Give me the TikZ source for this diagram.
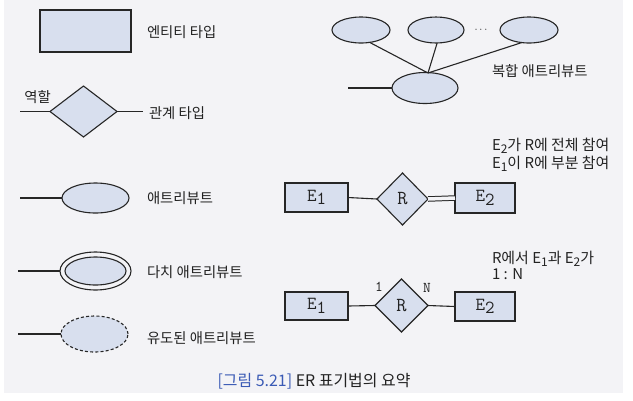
\documentclass[tikz,border=0pt]{standalone}
\usepackage{fontspec}
\setmainfont{Noto Sans CJK KR}
\usetikzlibrary{shapes.geometric}
\definecolor{ln}{HTML}{262626}
\definecolor{sh}{HTML}{D8DFEE}
\definecolor{panel}{HTML}{F3F3F6}
\definecolor{tx}{HTML}{222222}
\definecolor{capblue}{HTML}{3A5AB5}
\newcommand{\ksub}[1]{\raisebox{-0.35ex}{\fontsize{12}{12}\selectfont #1}}
\newcommand{\esub}[1]{\raisebox{-0.45ex}{#1}}
\begin{document}
\begin{tikzpicture}[x=1bp,y=-1bp,line width=1.1bp,
  every node/.style={inner sep=0pt,outer sep=0pt},
  ent/.style={draw=ln,fill=sh,rectangle,font=\ttfamily\fontsize{18.5}{18}\selectfont,text=tx},
  rel/.style={draw=ln,fill=sh,diamond,font=\ttfamily\fontsize{20}{20}\selectfont,text=tx},
  attr/.style={draw=ln,fill=sh,ellipse},
  lbl/.style={anchor=west,font=\fontsize{14.4}{16}\selectfont,text=tx},
  rlbl/.style={anchor=west,font=\fontsize{15}{17}\selectfont,text=tx},
  card/.style={font=\ttfamily\fontsize{15}{15}\selectfont,text=tx},
  conn/.style={draw=ln,line width=1.1bp}]
\useasboundingbox (0,0) rectangle (633,400);
\fill[white] (0,0) rectangle (633,400);
\fill[panel] (4,0) rectangle (623,393);

% legend: entity
\node[ent,minimum width=91bp,minimum height=42bp] (ent) at (85.5,31) {};
\node[lbl] (entl) at (147,32) {엔티티 타입};

% legend: relationship
\node[rel,minimum width=67bp,minimum height=51bp,aspect=1.3] (rel) at (83.5,111.5) {};
\coordinate (rell) at (20,111.5);
\coordinate (relr) at (143,111.5);
\draw[conn] (rell) -- (rel.west);
\draw[conn] (rel.east) -- (relr);
\node[lbl,anchor=center] (role) at (37.5,97) {역할};
\node[lbl] (rell2) at (149,113) {관계 타입};

% legend: attribute
\node[attr,minimum width=67bp,minimum height=30bp] (att) at (95.5,198) {};
\coordinate (attl) at (20,198);
\draw[conn] (attl) -- (att.west);
\node[lbl] (attlb) at (147,198) {애트리뷰트};

% legend: multivalued
\node[ellipse,draw=ln,minimum width=71bp,minimum height=38bp] (mvo) at (95.5,271) {};
\node[attr,minimum width=61bp,minimum height=28bp] (mvi) at (95.5,271) {};
\coordinate (mvl) at (18,271);
\draw[conn] (mvl) -- (mvo.west);
\node[lbl] (mvlb) at (147,272) {다치 애트리뷰트};

% legend: derived
\node[attr,dash pattern=on 3bp off 2.2bp,minimum width=67bp,minimum height=36bp] (der) at (94.5,334) {};
\coordinate (derl) at (18,334);
\draw[conn] (derl) -- (der.west);
\node[lbl] (derlb) at (147,338) {유도된 애트리뷰트};

% composite attribute
\node[attr,minimum width=58bp,minimum height=26bp] (c1) at (361,30) {};
\node[attr,minimum width=56bp,minimum height=26bp] (c2) at (436,30) {};
\node[attr,minimum width=58bp,minimum height=26bp] (c3) at (529,30) {};
\node[font=\fontsize{11}{11}\selectfont,text=tx] (dots) at (481,30) {$\cdots$};
\node[attr,minimum width=66bp,minimum height=31bp] (cb) at (425,88) {};
\coordinate (j) at (428,73);
\coordinate (cbl) at (348,88);
\draw[conn] (c1.305) -- (j);
\draw[conn] (c2.275) -- (j);
\draw[conn] (c3.240) -- (j);
\draw[conn] (cbl) -- (cb.west);
\node[lbl] (cblb) at (492,71) {복합 애트리뷰트};

% row 1: participation
\node[ent,minimum width=63bp,minimum height=29bp] (E1a) at (316.5,197.5) {E\esub{1}};
\node[rel,minimum width=51bp,minimum height=52bp] (R1) at (402.5,199) {R};
\node[ent,minimum width=60bp,minimum height=30bp] (E2a) at (485,198) {E\esub{2}};
\draw[conn] (E1a.east) -- (R1.west);
\draw[draw=ln,line width=1bp,double=panel,double distance=3.5bp] (R1.east) -- (E2a.west);
\node[rlbl] (p1) at (492,146) {E\ksub{2}가 R에 전체 참여};
\node[rlbl] (p2) at (492,164) {E\ksub{1}이 R에 부분 참여};

% row 2: cardinality
\node[ent,minimum width=63bp,minimum height=28bp] (E1b) at (316.5,306) {E\esub{1}};
\node[rel,minimum width=53bp,minimum height=53bp] (R2) at (401.5,305.5) {R};
\node[ent,minimum width=60bp,minimum height=29bp] (E2b) at (485,306.5) {E\esub{2}};
\draw[conn] (E1b.east) -- (R2.west);
\draw[conn] (R2.east) -- (E2b.west);
\node[card] (one) at (379,287) {1};
\node[card] (enn) at (427,288) {N};
\node[rlbl] (q1) at (492,259) {R에서 E\ksub{1}과 E\ksub{2}가};
\node[rlbl] (q2) at (492,274) {1 : N};

% caption
\node[font=\fontsize{16}{18}\selectfont,text=tx] (cap) at (314,381)
  {\textcolor{capblue}{[그림 5.21]}\ ER 표기법의 요약};
\end{tikzpicture}
\end{document}
